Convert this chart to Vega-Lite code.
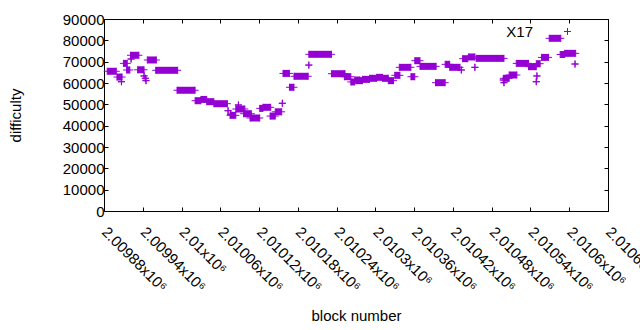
{
  "$schema": "https://vega.github.io/schema/vega-lite/v6.json",
  "width": 504,
  "height": 192,
  "autosize": {"type": "none"},
  "padding": {"left": 104, "top": 19, "right": 32, "bottom": 119},
  "background": "white",
  "config": {
    "view": {"stroke": "black", "strokeWidth": 1},
    "font": "Liberation Sans",
    "axis": {"labelFont": "Liberation Sans", "titleFont": "Liberation Sans", "labelFontSize": 15, "titleFontSize": 15, "titleFontWeight": "normal", "labelColor": "black", "titleColor": "black", "tickColor": "black", "grid": false, "domain": false, "tickSize": -4}
  },
  "data": {"values": [
    {"start": 2009885, "end": 2009899, "difficulty": 65500},
    {"start": 2009900, "end": 2009908, "difficulty": 62800},
    {"start": 2009907, "end": 2009907, "difficulty": 60600},
    {"start": 2009910, "end": 2009916, "difficulty": 69200},
    {"start": 2009915, "end": 2009920, "difficulty": 66100},
    {"start": 2009922, "end": 2009922, "difficulty": 71250},
    {"start": 2009921, "end": 2009934, "difficulty": 73000},
    {"start": 2009932, "end": 2009942, "difficulty": 66200},
    {"start": 2009942, "end": 2009942, "difficulty": 63300},
    {"start": 2009944, "end": 2009944, "difficulty": 62200},
    {"start": 2009945, "end": 2009945, "difficulty": 61100},
    {"start": 2009947, "end": 2009961, "difficulty": 70800},
    {"start": 2009960, "end": 2009994, "difficulty": 65950},
    {"start": 2009993, "end": 2010021, "difficulty": 56600},
    {"start": 2010021, "end": 2010030, "difficulty": 51700},
    {"start": 2010030, "end": 2010039, "difficulty": 52300},
    {"start": 2010039, "end": 2010050, "difficulty": 51250},
    {"start": 2010050, "end": 2010071, "difficulty": 50300},
    {"start": 2010072, "end": 2010072, "difficulty": 47000},
    {"start": 2010076, "end": 2010076, "difficulty": 45300},
    {"start": 2010075, "end": 2010084, "difficulty": 44850},
    {"start": 2010088, "end": 2010088, "difficulty": 49700},
    {"start": 2010084, "end": 2010098, "difficulty": 47800},
    {"start": 2010096, "end": 2010108, "difficulty": 45600},
    {"start": 2010106, "end": 2010121, "difficulty": 43600},
    {"start": 2010121, "end": 2010126, "difficulty": 48100},
    {"start": 2010126, "end": 2010138, "difficulty": 48600},
    {"start": 2010137, "end": 2010145, "difficulty": 44500},
    {"start": 2010145, "end": 2010155, "difficulty": 46500},
    {"start": 2010156, "end": 2010156, "difficulty": 50500},
    {"start": 2010157, "end": 2010167, "difficulty": 64500},
    {"start": 2010167, "end": 2010174, "difficulty": 58000},
    {"start": 2010174, "end": 2010196, "difficulty": 63150},
    {"start": 2010197, "end": 2010197, "difficulty": 68400},
    {"start": 2010197, "end": 2010232, "difficulty": 73450},
    {"start": 2010232, "end": 2010253, "difficulty": 64350},
    {"start": 2010252, "end": 2010262, "difficulty": 62950},
    {"start": 2010262, "end": 2010268, "difficulty": 60500},
    {"start": 2010268, "end": 2010276, "difficulty": 61400},
    {"start": 2010270, "end": 2010280, "difficulty": 61100},
    {"start": 2010280, "end": 2010291, "difficulty": 61700},
    {"start": 2010291, "end": 2010302, "difficulty": 62200},
    {"start": 2010302, "end": 2010311, "difficulty": 62650},
    {"start": 2010311, "end": 2010320, "difficulty": 62200},
    {"start": 2010320, "end": 2010328, "difficulty": 61100},
    {"start": 2010330, "end": 2010338, "difficulty": 63600},
    {"start": 2010337, "end": 2010355, "difficulty": 67350},
    {"start": 2010355, "end": 2010361, "difficulty": 62950},
    {"start": 2010361, "end": 2010369, "difficulty": 70450},
    {"start": 2010369, "end": 2010394, "difficulty": 67800},
    {"start": 2010393, "end": 2010408, "difficulty": 60150},
    {"start": 2010408, "end": 2010415, "difficulty": 68750},
    {"start": 2010415, "end": 2010431, "difficulty": 67350},
    {"start": 2010433, "end": 2010433, "difficulty": 66100},
    {"start": 2010435, "end": 2010443, "difficulty": 71400},
    {"start": 2010444, "end": 2010454, "difficulty": 72200},
    {"start": 2010454, "end": 2010454, "difficulty": 67350},
    {"start": 2010456, "end": 2010499, "difficulty": 71550},
    {"start": 2010498, "end": 2010498, "difficulty": 61400},
    {"start": 2010499, "end": 2010499, "difficulty": 60150},
    {"start": 2010498, "end": 2010507, "difficulty": 62200},
    {"start": 2010507, "end": 2010519, "difficulty": 63750},
    {"start": 2010518, "end": 2010537, "difficulty": 69200},
    {"start": 2010537, "end": 2010549, "difficulty": 67650},
    {"start": 2010549, "end": 2010555, "difficulty": 69050},
    {"start": 2010550, "end": 2010550, "difficulty": 63300},
    {"start": 2010549, "end": 2010549, "difficulty": 60600},
    {"start": 2010557, "end": 2010568, "difficulty": 72000},
    {"start": 2010569, "end": 2010587, "difficulty": 80950},
    {"start": 2010586, "end": 2010593, "difficulty": 73350},
    {"start": 2010593, "end": 2010610, "difficulty": 73900},
    {"start": 2010609, "end": 2010609, "difficulty": 68900}
  ]},
  "resolve": {"axis": {"x": "independent", "y": "independent"}},
  "layer": [
    {
      "mark": {"type": "rule", "color": "#9400D3", "strokeWidth": 7, "strokeCap": "butt"},
      "encoding": {
        "x": {"field": "start", "type": "quantitative", "scale": {"domain": [2009880, 2010660], "nice": false, "zero": false},
          "axis": {"orient": "bottom", "title": "block number", "titlePadding": 14,
            "values": [2009880, 2009940, 2010000, 2010060, 2010120, 2010180, 2010240, 2010300, 2010360, 2010420, 2010480, 2010540, 2010600, 2010660],
            "labelExpr": "format(datum.value / 1000000, '.6~g') + 'x10⁶'",
            "labelAngle": 45, "labelAlign": "left", "labelBaseline": "middle", "labelPadding": 22, "labelOverlap": false, "labelBound": false, "labelFlush": false}},
        "x2": {"field": "end"},
        "y": {"field": "difficulty", "type": "quantitative", "scale": {"domain": [0, 90000], "nice": false},
          "axis": {"orient": "left", "title": "difficulty", "values": [0, 10000, 20000, 30000, 40000, 50000, 60000, 70000, 80000, 90000], "format": "d", "labelPadding": 4, "titlePadding": 39}}
      }
    },
    {
      "transform": [{"fold": ["start", "end"], "as": ["edge", "block"]}],
      "mark": {"type": "point", "shape": "M-1,0H1M0,-1V1", "filled": false, "strokeWidth": 1, "size": 49, "opacity": 1},
      "encoding": {
        "x": {"field": "block", "type": "quantitative",
          "axis": {"orient": "top", "title": null, "labels": false, "values": [2009880, 2009940, 2010000, 2010060, 2010120, 2010180, 2010240, 2010300, 2010360, 2010420, 2010480, 2010540, 2010600, 2010660]}},
        "y": {"field": "difficulty", "type": "quantitative",
          "axis": {"orient": "right", "title": null, "labels": false, "values": [0, 10000, 20000, 30000, 40000, 50000, 60000, 70000, 80000, 90000]}},
        "color": {"datum": "X17", "type": "nominal", "scale": {"range": ["#9400D3"]},
          "legend": {"title": null, "orient": "none", "legendX": 456, "legendY": 5, "padding": 0, "symbolType": "M-1,0H1M0,-1V1", "symbolSize": 49, "symbolStrokeWidth": 1, "symbolFillColor": "transparent", "symbolStrokeColor": "#9400D3", "labelFontSize": 15, "labelFont": "Liberation Sans", "labelColor": "black", "labelAlign": "right", "labelOffset": -42}}
      }
    }
  ]
}
